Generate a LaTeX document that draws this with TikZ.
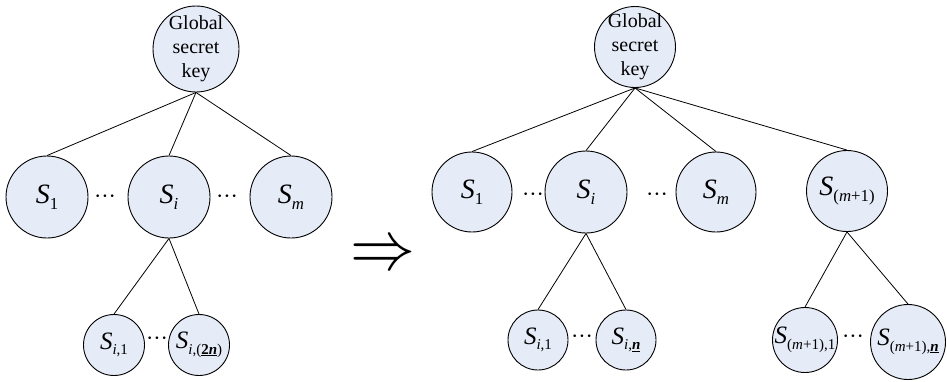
\documentclass[tikz,border=0pt]{standalone}
\usepackage{fontspec}
\setmainfont{Liberation Serif}
\usepackage{xcolor}
\usetikzlibrary{positioning}
\definecolor{keyfill}{HTML}{E6ECF7}
\newcommand{\lo}[1]{\raisebox{-.22em}{\scalebox{.6}{#1}}}
\newcommand{\nn}{\underline{\textbf{\textit{n}}}}
\tikzset{keynode/.style={circle, draw, fill=keyfill, line width=0.9pt, inner sep=0pt, minimum size=#1},
         bigS/.style={font=\fontsize{28}{28}\selectfont},
         smallS/.style={font=\fontsize{25}{25}\selectfont},
         dotsn/.style={font=\fontsize{22}{22}\selectfont},
         link/.style={line width=0.8pt}}

\begin{document}
\begin{tikzpicture}[x=1pt,y=-1pt]
    \useasboundingbox (0,0) rectangle (947,381);
    % before
    \node[keynode=86pt, label={[align=center,font=\fontsize{20}{24}\selectfont]center:Global\\secret\\key}] (gkL) at (196,49) {};
    \node[keynode=82pt, bigS] (s1L) at (47,197) {\textit{S}\lo{1}};
    \node[keynode=82pt, bigS] (siL) at (169,197) {\textit{S}\lo{\textit{i}}};
    \node[keynode=82pt, bigS] (smL) at (291,197) {\textit{S}\lo{\textit{m}}};
    \node[keynode=61pt, smallS] (si1L) at (114,345) {\textit{S}\lo{\textit{i},1}};
    \node[keynode=61pt, smallS] (si2nL) at (199,345) {\makebox[0pt]{\textit{S}\lo{\textit{i},(\underline{\textbf{2\textit{n}}})}}};
    \node[dotsn] (d1L) at (105,199) {···};
    \node[dotsn] (d2L) at (227,199) {···};
    \node[dotsn] (d3L) at (157,341) {···};
    \draw[link] (gkL.south) -- (s1L.north);
    \draw[link] (gkL.south) -- (siL.north);
    \draw[link] (gkL.south) -- (smL.north);
    \draw[link] (siL.south) -- (si1L.north);
    \draw[link] (siL.south) -- (si2nL.north);

    \node[inner sep=0pt] (imp) at (383,257) {\scalebox{6.5}[7]{$\Rightarrow$}};

    % after
    \node[keynode=81pt, label={[align=center,font=\fontsize{20}{24}\selectfont]center:Global\\secret\\key}] (gkR) at (635,47) {};
    \node[keynode=80pt, bigS] (s1R) at (472,192) {\textit{S}\lo{1}};
    \node[keynode=82pt, bigS] (siR) at (586,192) {\textit{S}\lo{\textit{i}}};
    \node[keynode=80pt, bigS] (smR) at (716,192) {\textit{S}\lo{\textit{m}}};
    \node[keynode=81pt, bigS] (sm1R) at (847,191) {\makebox[0pt]{\textit{S}\lo{(\textit{m}+1)}}};
    \node[keynode=60pt, smallS] (si1R) at (538,340) {\textit{S}\lo{\textit{i},1}};
    \node[keynode=60pt, smallS] (sinR) at (626,340) {\textit{S}\lo{\textit{i},\nn}};
    \node[keynode=65pt, smallS] (sm11R) at (805,340) {\makebox[0pt]{\textit{S}\lo{(\textit{m}+1),1}}};
    \node[keynode=75pt, smallS] (sm1nR) at (908,342) {\makebox[0pt]{\textit{S}\lo{(\textit{m}+1),\nn}}};
    \node[dotsn] (d1R) at (533,197) {···};
    \node[dotsn] (d2R) at (657,197) {···};
    \node[dotsn] (d3R) at (582,339) {···};
    \node[dotsn] (d4R) at (853,339) {···};
    \draw[link] (gkR.south) -- (s1R.north);
    \draw[link] (gkR.south) -- (siR.north);
    \draw[link] (gkR.south) -- (smR.north);
    \draw[link] (gkR.south) -- (sm1R.north);
    \draw[link] (siR.south) -- (si1R.north);
    \draw[link] (siR.south) -- (sinR.north);
    \draw[link] (sm1R.south) -- (sm11R.north);
    \draw[link] (sm1R.south) -- (sm1nR.north);
\end{tikzpicture}
\end{document}
